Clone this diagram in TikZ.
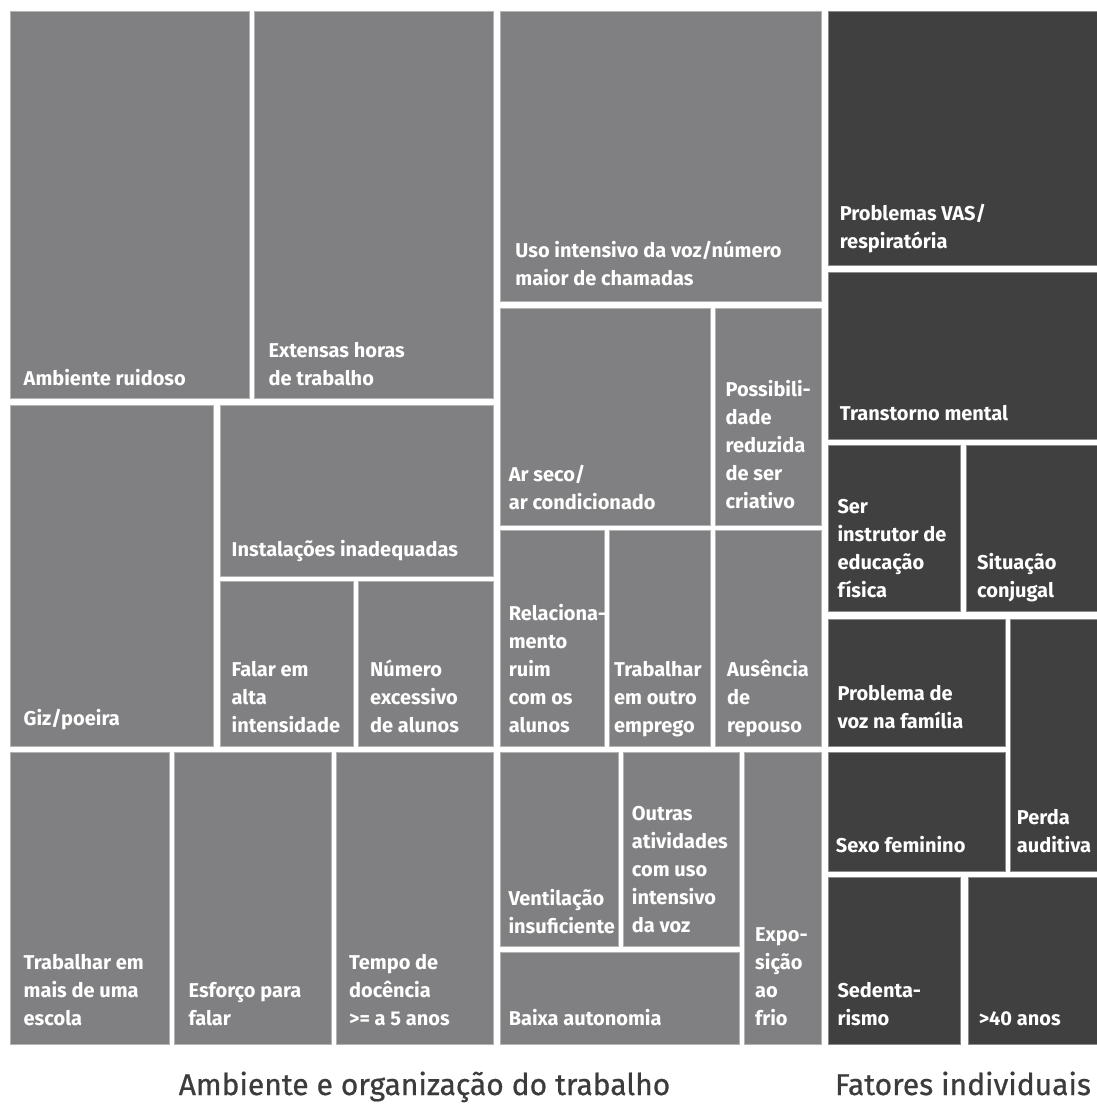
\documentclass[tikz,border=0pt]{standalone}
\usepackage{fontspec}
\setmainfont{Fira Sans}
\newfontfamily\titlefont{Fira Sans}[FakeBold=0.7]
\definecolor{boxlight}{HTML}{808082}
\definecolor{boxdark}{HTML}{404040}
\definecolor{titlegray}{HTML}{3C3C3C}

\begin{document}
\begin{tikzpicture}[x=1pt,y=-1pt,
	lightbox/.style={fill=boxlight,draw=boxlight!60!white,line width=0.7pt},
	darkbox/.style={fill=boxdark,draw=boxdark!60!white,line width=0.7pt},
	lbl/.style={anchor=base west,align=left,inner sep=0pt,text=white,font=\bfseries\fontsize{20}{28}\selectfont},
	ttl/.style={anchor=base,inner sep=0pt,text=titlegray,font=\titlefont\fontsize{30}{36}\selectfont}]
		\useasboundingbox (0,0) rectangle (1097,1104);

		% Ambiente e organizacao do trabalho
		\draw[lightbox] (10.5,11) rectangle (249.4,398.3);
		\draw[lightbox] (254.3,11) rectangle (493,398.3);
		\draw[lightbox] (10.5,405.7) rectangle (213.3,746.7);
		\draw[lightbox] (220.3,405.7) rectangle (493,576);
		\draw[lightbox] (220.3,581.7) rectangle (353.2,746.7);
		\draw[lightbox] (358.5,581.7) rectangle (493,746.7);
		\draw[lightbox] (10.5,752.3) rectangle (169.1,1044);
		\draw[lightbox] (174.3,752.3) rectangle (331.1,1044);
		\draw[lightbox] (336.7,752.3) rectangle (493,1044);

		\draw[lightbox] (500,11) rectangle (821.5,301);
		\draw[lightbox] (500,308) rectangle (710,525);
		\draw[lightbox] (715.3,308) rectangle (821.5,525);
		\draw[lightbox] (500,530.7) rectangle (604.2,746.7);
		\draw[lightbox] (609.6,530.7) rectangle (710,746.7);
		\draw[lightbox] (715.3,530.7) rectangle (821.5,746.7);
		\draw[lightbox] (500,752.3) rectangle (618,946);
		\draw[lightbox] (623.5,752.3) rectangle (739,946);
		\draw[lightbox] (500,952) rectangle (739,1044);
		\draw[lightbox] (744.4,752.3) rectangle (821.5,1044);

		% Fatores individuais
		\draw[darkbox] (828,11) rectangle (1097,265);
		\draw[darkbox] (828,272.3) rectangle (1097,439.3);
		\draw[darkbox] (828,445) rectangle (960.8,611.7);
		\draw[darkbox] (966.2,445) rectangle (1097,611.7);
		\draw[darkbox] (828,619) rectangle (1005.7,746.7);
		\draw[darkbox] (1010.7,619) rectangle (1097,871.7);
		\draw[darkbox] (828,752.3) rectangle (1005.7,871);
		\draw[darkbox] (828,877) rectangle (960.8,1044);
		\draw[darkbox] (968,877) rectangle (1097,1044);

		% labels sit on the baseline of their last line
		\node[lbl] (amb) at (23.5,385) {Ambiente ruidoso};
		\node[lbl] (ext) at (268.3,385) {Extensas horas\\de trabalho};
		\node[lbl] (giz) at (23.5,725) {Giz/poeira};
		\node[lbl] (inst) at (231.5,556) {Instalações inadequadas};
		\node[lbl] (falar) at (231.5,732) {Falar em\\alta\\intensidade};
		\node[lbl] (num) at (370,732) {Número\\excessivo\\de alunos};
		\node[lbl] (trab) at (23.5,1025) {Trabalhar em\\mais de uma\\escola};
		\node[lbl] (esf) at (188.4,1025) {Esforço para\\falar};
		\node[lbl] (tempo) at (349,1025) {Tempo de\\docência\\>= a 5 anos};

		\node[lbl] (uso) at (515.2,285) {Uso intensivo da voz/número\\maior de chamadas};
		\node[lbl] (arseco) at (508.6,509) {Ar seco/\\ar condicionado};
		\node[lbl] (poss) at (725.4,508) {Possibili-\\dade\\reduzida\\de ser\\criativo};
		\node[lbl] (rel) at (508.6,732) {Relaciona-\\mento\\ruim\\com os\\alunos};
		\node[lbl] (outroemp) at (613.9,732) {Trabalhar\\em outro\\emprego};
		\node[lbl] (aus) at (727,732) {Ausência\\de\\repouso};
		\node[lbl] (vent) at (508.3,933) {Ventilação\\insuficiente};
		\node[lbl] (outras) at (631.7,932) {Outras\\atividades\\com uso\\intensivo\\da voz};
		\node[lbl] (baixa) at (508.6,1025) {Baixa autonomia};
		\node[lbl] (expo) at (755,1025) {Expo-\\sição\\ao\\frio};

		\node[lbl] (vas) at (839.6,248) {Problemas VAS/\\respiratória};
		\node[lbl] (transt) at (839.6,420) {Transtorno mental};
		\node[lbl] (ser) at (837.3,597) {Ser\\instrutor de\\educação\\física};
		\node[lbl] (sit) at (977,597) {Situação\\conjugal};
		\node[lbl] (probvoz) at (837.3,728) {Problema de\\voz na família};
		\node[lbl] (perda) at (1016.7,852) {Perda\\auditiva};
		\node[lbl] (sexo) at (835.7,852) {Sexo feminino};
		\node[lbl] (sed) at (837.3,1025) {Sedenta-\\rismo};
		\node[lbl] (mais40) at (978.6,1025) {>40 anos};

		\node[ttl] (ambtitle) at (424.5,1095) {Ambiente e organização do trabalho};
		\node[ttl] (indtitle) at (963,1095) {Fatores individuais};

	\end{tikzpicture}
\end{document}
